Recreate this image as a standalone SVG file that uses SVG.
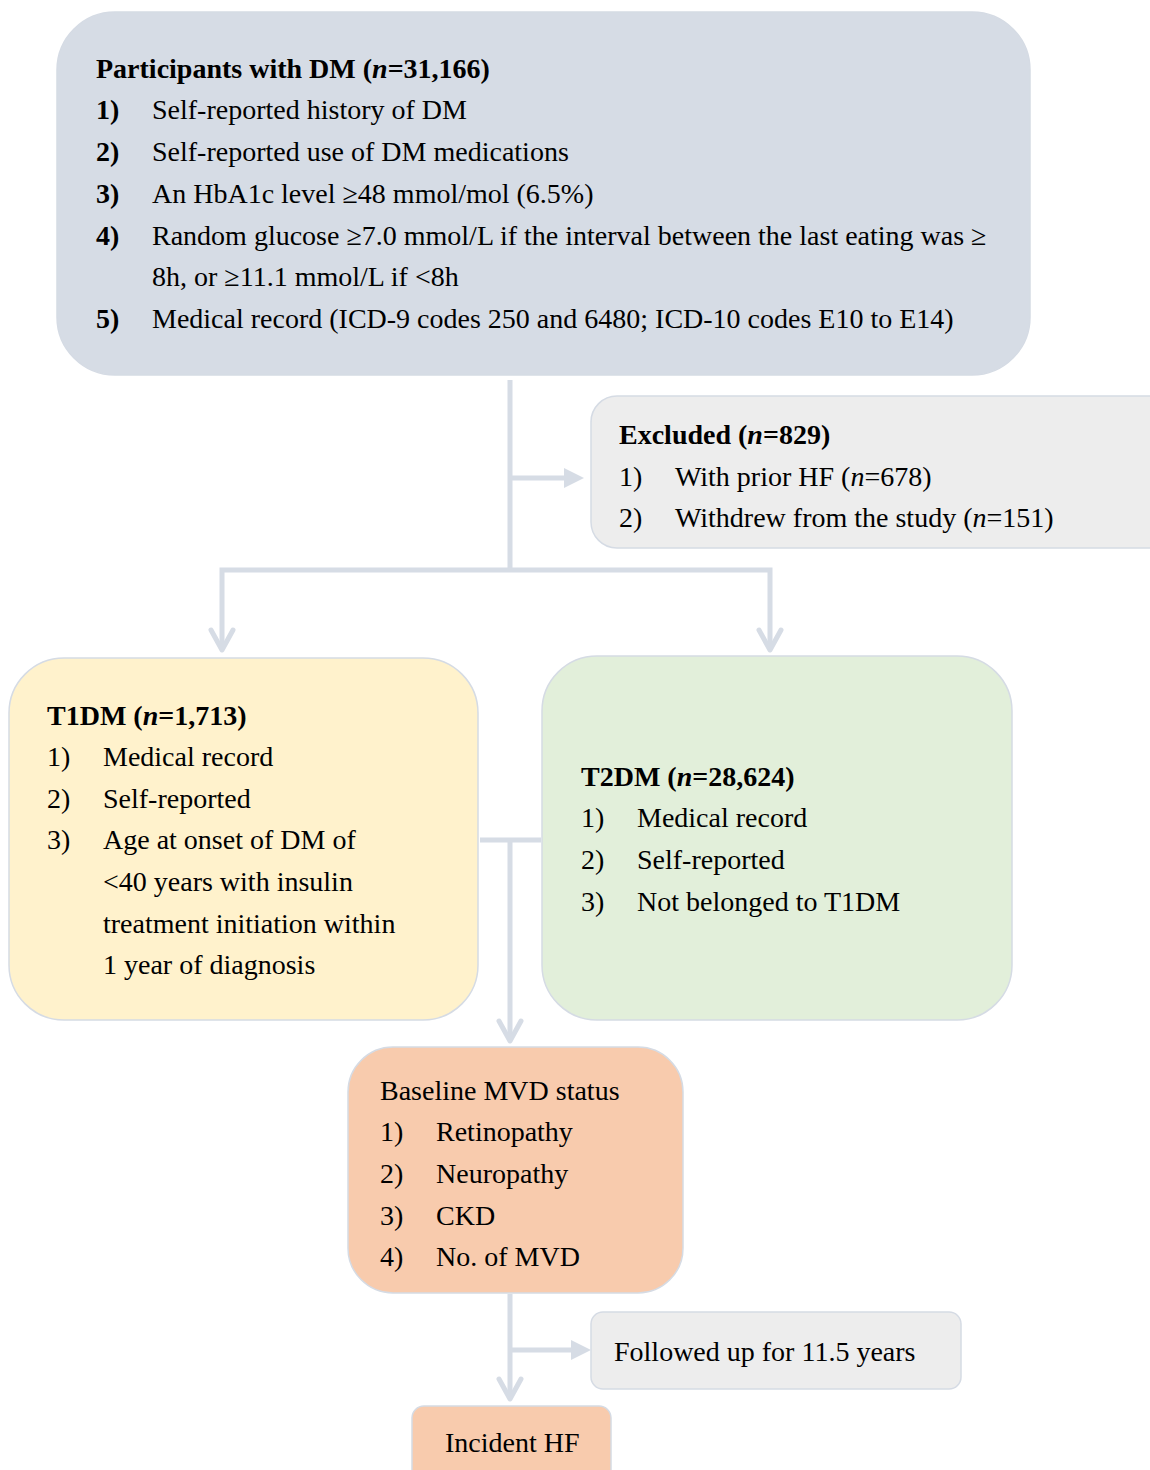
<svg xmlns="http://www.w3.org/2000/svg" width="1150" height="1470" viewBox="0 0 1150 1470">
<style>
text{font-family:"Liberation Serif","Times New Roman",serif;font-size:28px;fill:#000}
.b{font-weight:bold}
.c{fill:none;stroke:#D6DCE5;stroke-width:5}
.ch{fill:none;stroke:#D6DCE5;stroke-width:5;stroke-linecap:round;stroke-linejoin:round}
.tri{fill:#D6DCE5}
.bx{stroke:#D5DBE4;stroke-width:1.5}
</style>
<rect width="1150" height="1470" fill="#fff"/>
<g id="connectors">
<path class="c" d="M510,380 V570"/>
<path class="c" d="M510,478 H566"/>
<polygon class="tri" points="564,468 584,478 564,488"/>
<path class="c" d="M222,648 V570 H770 V650"/>
<polyline class="ch" points="211,630 222,650 233,630"/>
<polyline class="ch" points="759,630 770,650 781,630"/>
<path class="c" d="M480,840 H541 M510,840 V1040"/>
<polyline class="ch" points="499,1021 510,1041 521,1021"/>
<path class="c" d="M510,1294 V1398 M510,1350 H573"/>
<polygon class="tri" points="571,1340 591,1350 571,1360"/>
<polyline class="ch" points="499,1379 510,1399 521,1379"/>
</g>
<g id="participants">
<rect class="bx" x="57" y="12" width="973" height="363" rx="58" fill="#D6DCE5"/>
<text x="96" y="78"><tspan class="b">Participants with DM (<tspan font-style="italic">n</tspan>=31,166)</tspan></text>
<text x="96" y="119" class="b">1)</text><text x="152" y="119">Self-reported history of DM</text>
<text x="96" y="161" class="b">2)</text><text x="152" y="161">Self-reported use of DM medications</text>
<text x="96" y="203" class="b">3)</text><text x="152" y="203">An HbA1c level ≥48 mmol/mol (6.5%)</text>
<text x="96" y="245" class="b">4)</text><text x="152" y="245">Random glucose ≥7.0 mmol/L if the interval between the last eating was ≥</text>
<text x="152" y="286">8h, or ≥11.1 mmol/L if &lt;8h</text>
<text x="96" y="328" class="b">5)</text><text x="152" y="328">Medical record (ICD-9 codes 250 and 6480; ICD-10 codes E10 to E14)</text>
</g>
<g id="excluded">
<rect class="bx" x="591" y="396" width="600" height="152" rx="26" fill="#EDEDED"/>
<text x="619" y="444" class="b">Excluded (<tspan font-style="italic">n</tspan>=829)</text>
<text x="619" y="486">1)</text><text x="675" y="486">With prior HF (<tspan font-style="italic">n</tspan>=678)</text>
<text x="619" y="527">2)</text><text x="675" y="527">Withdrew from the study (<tspan font-style="italic">n</tspan>=151)</text>
</g>
<g id="t1dm">
<rect class="bx" x="9" y="658" width="469" height="362" rx="55" fill="#FFF2CC"/>
<text x="47" y="725" class="b">T1DM (<tspan font-style="italic">n</tspan>=1,713)</text>
<text x="47" y="766">1)</text><text x="103" y="766">Medical record</text>
<text x="47" y="808">2)</text><text x="103" y="808">Self-reported</text>
<text x="47" y="849">3)</text><text x="103" y="849">Age at onset of DM of</text>
<text x="103" y="891">&lt;40 years with insulin</text>
<text x="103" y="933">treatment initiation within</text>
<text x="103" y="974">1 year of diagnosis</text>
</g>
<g id="t2dm">
<rect class="bx" x="542" y="656" width="470" height="364" rx="55" fill="#E2EFDA"/>
<text x="581" y="786" class="b">T2DM (<tspan font-style="italic">n</tspan>=28,624)</text>
<text x="581" y="827">1)</text><text x="637" y="827">Medical record</text>
<text x="581" y="869">2)</text><text x="637" y="869">Self-reported</text>
<text x="581" y="911">3)</text><text x="637" y="911">Not belonged to T1DM</text>
</g>
<g id="baseline">
<rect class="bx" x="348" y="1047" width="335" height="246" rx="45" fill="#F8CBAD"/>
<text x="380" y="1100">Baseline MVD status</text>
<text x="380" y="1141">1)</text><text x="436" y="1141">Retinopathy</text>
<text x="380" y="1183">2)</text><text x="436" y="1183">Neuropathy</text>
<text x="380" y="1225">3)</text><text x="436" y="1225">CKD</text>
<text x="380" y="1266">4)</text><text x="436" y="1266">No. of MVD</text>
</g>
<g id="followup">
<rect class="bx" x="591" y="1312" width="370" height="77" rx="12" fill="#EDEDED"/>
<text x="614" y="1361">Followed up for 11.5 years</text>
</g>
<g id="incident">
<rect class="bx" x="412" y="1406" width="199" height="90" rx="12" fill="#F8CBAD"/>
<text x="445" y="1452">Incident HF</text>
</g>
</svg>
